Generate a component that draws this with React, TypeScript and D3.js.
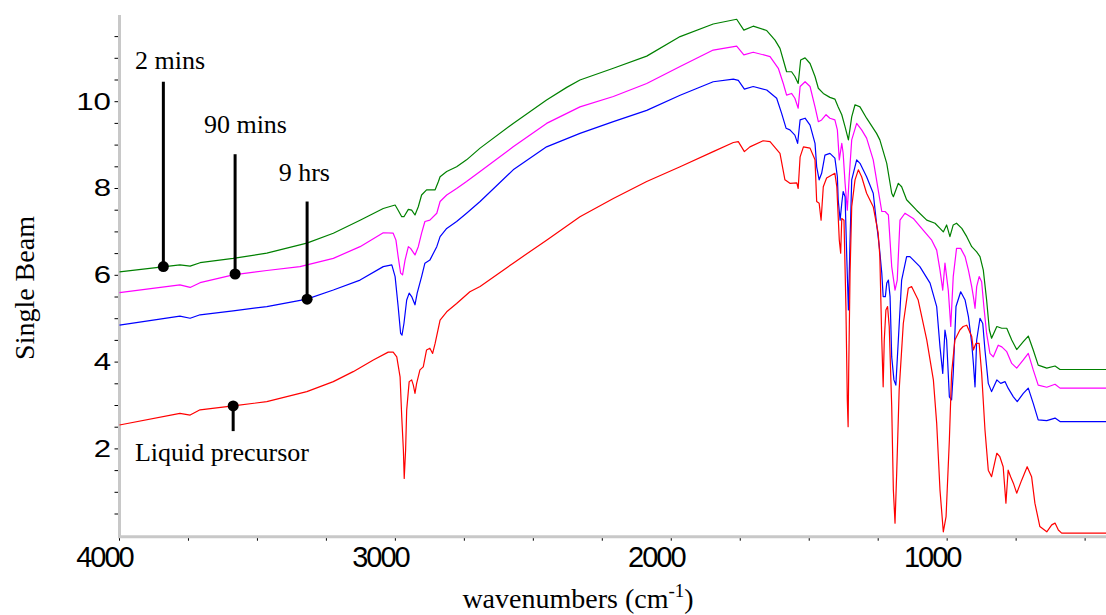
import React, { useEffect, useRef } from 'react';
import * as d3 from 'd3';

// spectra: [wavenumber (cm-1), single beam]
const liquidPrecursor: [number, number][] = [
  [4000, 2.55], [3781, 2.82], [3744, 2.78], [3708, 2.9], [3588, 2.99], [3466, 3.09], [3321, 3.32],
  [3225, 3.55], [3153, 3.78], [3080, 4.05], [3026, 4.23], [3008, 4.23], [2995, 4.12], [2983, 3.66],
  [2977, 2.74], [2971, 1.97], [2968, 1.32], [2963, 1.97], [2959, 2.9], [2950, 3.55], [2941, 3.59],
  [2935, 3.47], [2929, 3.28], [2923, 3.51], [2911, 3.82], [2899, 3.89], [2887, 4.28], [2875, 4.32],
  [2865, 4.2], [2856, 4.43], [2838, 4.97], [2814, 5.16], [2778, 5.35], [2730, 5.62], [2693, 5.74],
  [2573, 6.28], [2452, 6.81], [2331, 7.35], [2210, 7.77], [2089, 8.16], [1968, 8.5], [1848, 8.85],
  [1775, 9.06], [1757, 9.08], [1735, 8.85], [1715, 8.96], [1667, 9.1], [1642, 9.08], [1606, 8.81],
  [1588, 8.2], [1570, 8.12], [1545, 8.13], [1540, 8.0], [1533, 8.73], [1521, 8.96], [1497, 8.93],
  [1479, 8.66], [1473, 7.7], [1464, 7.66], [1457, 7.27], [1449, 8.04], [1437, 8.24], [1407, 8.35],
  [1400, 8.04], [1391, 6.81], [1386, 6.51], [1382, 7.31], [1374, 7.27], [1367, 5.28], [1362, 3.13],
  [1359, 2.51], [1357, 3.74], [1352, 6.05], [1346, 7.58], [1334, 8.2], [1322, 8.43], [1310, 8.27],
  [1292, 7.89], [1268, 7.58], [1250, 6.97], [1244, 6.43], [1237, 4.51], [1232, 3.43], [1228, 4.51],
  [1222, 5.2], [1216, 5.28], [1210, 4.82], [1201, 2.97], [1195, 1.05], [1189, 0.29], [1183, 1.44],
  [1174, 3.36], [1159, 4.89], [1141, 5.7], [1129, 5.74], [1105, 5.43], [1074, 4.51], [1050, 3.59],
  [1038, 2.59], [1026, 1.05], [1014, 0.09], [1004, 0.44], [992, 2.21], [984, 3.74], [972, 4.51],
  [954, 4.74], [942, 4.82], [929, 4.85], [911, 4.59], [905, 4.28], [896, 4.43], [884, 4.43],
  [875, 3.74], [863, 2.44], [851, 1.51], [839, 1.36], [820, 1.9], [809, 1.82], [797, 1.59],
  [787, 0.75], [779, 1.51], [770, 1.36], [760, 1.21], [748, 0.98], [730, 1.28], [710, 1.59],
  [694, 1.36], [682, 0.75], [664, 0.21], [639, 0.09], [621, 0.25], [609, 0.29], [597, 0.13],
  [585, 0.06], [400, 0.06],
];

const nineHours: [number, number][] = [
  [4000, 4.85], [3781, 5.06], [3744, 5.01], [3708, 5.09], [3588, 5.18], [3466, 5.28], [3321, 5.45],
  [3225, 5.66], [3128, 5.89], [3044, 6.2], [3013, 6.24], [3001, 5.97], [2990, 5.28], [2981, 4.66],
  [2976, 4.62], [2969, 4.89], [2959, 5.43], [2950, 5.59], [2941, 5.51], [2929, 5.32], [2921, 5.59],
  [2905, 5.97], [2893, 6.28], [2875, 6.35], [2850, 6.66], [2838, 6.89], [2814, 7.08], [2778, 7.24],
  [2742, 7.43], [2693, 7.7], [2573, 8.43], [2452, 8.96], [2331, 9.27], [2210, 9.54], [2089, 9.8],
  [1968, 10.15], [1848, 10.46], [1775, 10.52], [1757, 10.49], [1735, 10.29], [1703, 10.35],
  [1654, 10.27], [1618, 10.08], [1600, 9.73], [1584, 9.39], [1570, 9.35], [1552, 9.23], [1542, 9.04],
  [1533, 9.58], [1515, 9.62], [1497, 9.46], [1479, 9.04], [1473, 8.5], [1464, 8.2], [1455, 8.35],
  [1443, 8.77], [1425, 8.81], [1407, 8.7], [1398, 8.27], [1395, 7.74], [1388, 7.27], [1382, 7.66],
  [1377, 7.93], [1370, 7.81], [1364, 6.43], [1358, 5.2], [1352, 6.81], [1346, 8.2], [1328, 8.66],
  [1316, 8.58], [1292, 8.27], [1268, 7.89], [1256, 7.2], [1246, 6.66], [1237, 6.05], [1232, 5.51],
  [1224, 5.51], [1219, 5.82], [1213, 5.89], [1207, 5.51], [1201, 4.12], [1193, 3.59], [1186, 3.47],
  [1177, 4.51], [1165, 5.89], [1147, 6.43], [1135, 6.43], [1099, 6.2], [1062, 5.82], [1038, 5.28],
  [1026, 4.35], [1016, 3.74], [1008, 4.74], [1002, 4.51], [992, 3.2], [984, 3.13], [978, 3.74],
  [968, 5.28], [951, 5.62], [935, 5.43], [923, 5.05], [911, 4.43], [905, 3.97], [899, 3.43],
  [893, 4.51], [881, 5.01], [871, 4.89], [863, 4.28], [851, 3.51], [839, 3.32], [820, 3.59],
  [806, 3.51], [790, 3.55], [779, 3.4], [760, 3.2], [746, 3.09], [724, 3.28], [706, 3.4],
  [688, 3.05], [670, 2.67], [639, 2.65], [609, 2.71], [591, 2.63], [400, 2.63],
];

const ninetyMins: [number, number][] = [
  [4000, 5.6], [3781, 5.78], [3744, 5.72], [3708, 5.83], [3588, 6.01], [3466, 6.11], [3346, 6.2],
  [3225, 6.39], [3128, 6.66], [3044, 6.98], [3008, 6.97], [2998, 6.81], [2990, 6.43], [2981, 6.05],
  [2974, 6.01], [2965, 6.35], [2953, 6.66], [2945, 6.62], [2929, 6.47], [2917, 6.66], [2905, 6.97],
  [2893, 7.24], [2875, 7.27], [2850, 7.43], [2838, 7.7], [2814, 7.85], [2778, 8.0], [2742, 8.16],
  [2693, 8.39], [2573, 8.96], [2452, 9.5], [2331, 9.88], [2210, 10.12], [2089, 10.42], [1968, 10.81],
  [1848, 11.19], [1763, 11.28], [1737, 11.08], [1703, 11.14], [1642, 11.04], [1612, 10.77],
  [1594, 10.42], [1582, 10.15], [1564, 10.19], [1552, 10.08], [1540, 9.85], [1533, 10.35],
  [1515, 10.46], [1497, 10.35], [1479, 9.88], [1467, 9.54], [1455, 9.58], [1439, 9.7], [1425, 9.62],
  [1407, 9.58], [1398, 9.35], [1391, 8.66], [1382, 9.04], [1377, 8.81], [1370, 8.12], [1362, 7.5],
  [1355, 8.27], [1346, 9.12], [1328, 9.5], [1310, 9.35], [1292, 9.16], [1268, 8.66], [1250, 7.97],
  [1237, 7.47], [1225, 7.47], [1213, 7.39], [1201, 6.2], [1189, 5.66], [1181, 5.89], [1171, 7.27],
  [1153, 7.43], [1123, 7.31], [1087, 7.04], [1056, 6.81], [1038, 6.58], [1026, 6.12], [1016, 5.66],
  [1008, 6.28], [996, 5.66], [987, 4.82], [978, 5.97], [966, 6.62], [951, 6.62], [935, 6.43],
  [923, 6.12], [911, 5.74], [905, 5.51], [899, 5.24], [893, 5.74], [884, 5.97], [875, 5.85],
  [867, 5.28], [857, 4.66], [845, 4.2], [833, 4.12], [815, 4.39], [802, 4.35], [784, 4.24],
  [766, 3.97], [748, 3.86], [724, 4.05], [706, 4.2], [688, 3.82], [670, 3.47], [639, 3.42],
  [609, 3.49], [591, 3.4], [400, 3.4],
];

const twoMins: [number, number][] = [
  [4000, 6.08], [3781, 6.24], [3744, 6.21], [3708, 6.29], [3588, 6.39], [3466, 6.51], [3321, 6.74],
  [3225, 6.97], [3128, 7.27], [3044, 7.54], [3001, 7.62], [2990, 7.5], [2977, 7.35], [2969, 7.35],
  [2953, 7.52], [2941, 7.5], [2929, 7.39], [2917, 7.58], [2905, 7.85], [2887, 7.97], [2856, 7.97],
  [2844, 8.16], [2838, 8.27], [2814, 8.39], [2778, 8.5], [2742, 8.66], [2693, 8.93], [2573, 9.5],
  [2452, 10.04], [2379, 10.33], [2331, 10.5], [2210, 10.77], [2089, 11.05], [1968, 11.5],
  [1848, 11.79], [1763, 11.9], [1737, 11.65], [1703, 11.74], [1654, 11.64], [1624, 11.42],
  [1606, 11.23], [1594, 10.96], [1582, 10.69], [1564, 10.69], [1552, 10.58], [1540, 10.42],
  [1531, 10.96], [1515, 11.01], [1497, 10.88], [1479, 10.58], [1467, 10.31], [1449, 10.19],
  [1425, 10.1], [1407, 10.06], [1395, 9.88], [1382, 9.7], [1370, 9.42], [1358, 9.12], [1346, 9.65],
  [1334, 9.93], [1316, 9.88], [1292, 9.62], [1256, 9.27], [1244, 9.12], [1219, 8.58], [1201, 7.89],
  [1195, 7.81], [1177, 8.12], [1165, 8.04], [1147, 7.74], [1111, 7.5], [1074, 7.27], [1044, 7.2],
  [1026, 7.08], [1014, 7.0], [1002, 7.16], [990, 6.89], [978, 7.16], [966, 7.2], [947, 7.08],
  [929, 6.89], [911, 6.66], [893, 6.54], [881, 6.43], [869, 6.12], [857, 5.43], [847, 4.74],
  [839, 4.55], [820, 4.82], [802, 4.78], [784, 4.78], [766, 4.51], [748, 4.29], [724, 4.47],
  [706, 4.6], [688, 4.28], [670, 3.93], [639, 3.86], [609, 3.91], [591, 3.83], [400, 3.83],
];

const seriesNames = ['2 mins', '90 mins', '9 hrs', 'Liquid precursor'];
const seriesData = [twoMins, ninetyMins, nineHours, liquidPrecursor];
const seriesColors = ['#008000', '#ff00ff', '#0000ff', '#ff0000'];

// annotation: label, wavenumber of the pin, value at the dot, value at the pin end, text anchor
const annoLabels = ['2 mins', '90 mins', '9 hrs', 'Liquid precursor'];
const annoWn = [3841, 3581, 3320, 3588];
const annoDot = [6.2, 6.03, 5.45, 2.99];
const annoEnd = [10.46, 8.79, 7.7, 2.41];
const annoTextWn = [3944, 3694, 3423, 3944];
const annoTextV = [10.75, 9.27, 8.17, 1.71];

const xTicks = [4000, 3000, 2000, 1000];
const yTicks = [2, 4, 6, 8, 10];

const W = 1106;
const H = 615;

const App = () => {
  const svgRef = useRef<SVGSVGElement>(null);

  useEffect(() => {
    const svg = d3.select(svgRef.current);
    svg.selectAll('*').remove();

    const x = d3.scaleLinear().domain([4000, 400]).range([119.5, 1112.7]);
    const y = d3.scaleLinear().domain([0, 12]).range([535.7, 14.9]);

    const sans = '"Liberation Sans", Arial, sans-serif';
    const serif = '"Liberation Serif", "Times New Roman", serif';

    // axes lines (grey bars)
    svg.append('line')
      .attr('x1', x(4000)).attr('x2', x(4000))
      .attr('y1', y(12)).attr('y2', y(0) + 1.5)
      .attr('stroke', '#c8c8c8').attr('stroke-width', 3);
    svg.append('line')
      .attr('x1', x(4000) - 1.5).attr('x2', W)
      .attr('y1', y(0) + 1).attr('y2', y(0) + 1)
      .attr('stroke', '#c8c8c8').attr('stroke-width', 3);

    // minor / major ticks
    const yMinor = d3.range(0.5, 12, 0.5);
    svg.append('g').selectAll('line').data(yMinor).enter().append('line')
      .attr('x1', x(4000) - 5).attr('x2', x(4000) - 1.5)
      .attr('y1', d => y(d)).attr('y2', d => y(d))
      .attr('stroke', '#000').attr('stroke-width', 1);
    const xMinor = d3.range(4000, 399, -250);
    svg.append('g').selectAll('line').data(xMinor).enter().append('line')
      .attr('x1', d => x(d)).attr('x2', d => x(d))
      .attr('y1', y(0) + 2.5).attr('y2', y(0) + 5)
      .attr('stroke', '#000').attr('stroke-width', 1);

    // tick labels
    svg.append('g').selectAll('text').data(yTicks).enter().append('text')
      .attr('x', 111)
      .attr('y', d => y(d) + 8)
      .attr('text-anchor', 'end')
      .attr('transform', d => `translate(${111 * -0.3},0) scale(1.3,1)`)
      .style('font-family', sans).style('font-size', '24px')
      .text(d => d);
    svg.append('g').selectAll('text').data(xTicks).enter().append('text')
      .attr('x', d => x(d) - 15)
      .attr('y', y(0) + 31)
      .attr('text-anchor', 'middle')
      .style('font-family', sans).style('font-size', '29px').style('letter-spacing', '-2px')
      .text(d => d);

    // axis titles
    svg.append('text')
      .attr('transform', 'translate(34,288) rotate(-90)')
      .attr('text-anchor', 'middle')
      .style('font-family', serif).style('font-size', '28px')
      .text('Single Beam');
    const xt = svg.append('text')
      .attr('x', 578).attr('y', 608)
      .attr('text-anchor', 'middle')
      .style('font-family', serif).style('font-size', '28px');
    xt.append('tspan').text('wavenumbers (cm');
    xt.append('tspan').attr('dy', -11).style('font-size', '19px').text('-1');
    xt.append('tspan').attr('dy', 11).text(')');

    // spectra
    const line = d3.line<[number, number]>()
      .x(d => x(d[0]))
      .y(d => y(d[1]));
    svg.append('g').selectAll('path').data(seriesData).enter().append('path')
      .attr('d', d => line(d))
      .attr('fill', 'none')
      .attr('stroke', (d, i) => seriesColors[i])
      .attr('stroke-width', 1.2)
      .attr('stroke-linejoin', 'round')
      .append('title').text((d, i) => seriesNames[i]);

    // annotations
    const ann = svg.append('g').selectAll('g').data(annoLabels).enter().append('g');
    ann.append('line')
      .attr('x1', (d, i) => x(annoWn[i])).attr('x2', (d, i) => x(annoWn[i]))
      .attr('y1', (d, i) => y(annoDot[i])).attr('y2', (d, i) => y(annoEnd[i]))
      .attr('stroke', '#000').attr('stroke-width', 3);
    ann.append('circle')
      .attr('cx', (d, i) => x(annoWn[i]))
      .attr('cy', (d, i) => y(annoDot[i]))
      .attr('r', 5.5)
      .attr('fill', '#000');
    ann.append('text')
      .attr('x', (d, i) => x(annoTextWn[i]))
      .attr('y', (d, i) => y(annoTextV[i]))
      .style('font-family', serif).style('font-size', '26px')
      .text(d => d);
  }, []);

  return (
    <div style={{ position: 'absolute', left: 0, top: 0 }}>
      <svg ref={svgRef} width={W} height={H} style={{ display: 'block', background: '#fff' }} />
    </div>
  );
};

export default App;
